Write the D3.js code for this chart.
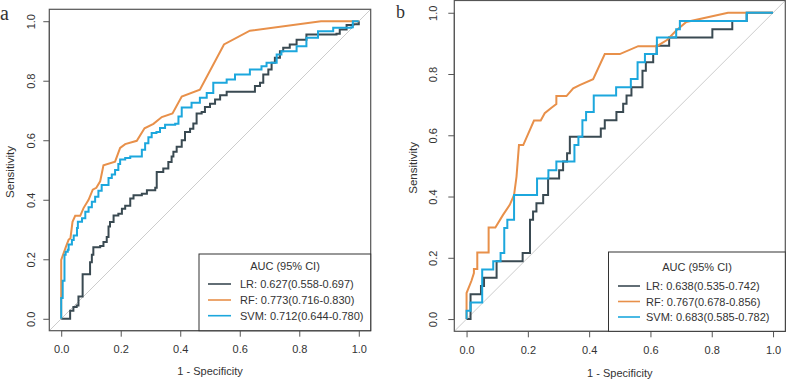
<!DOCTYPE html>
<html>
<head>
<meta charset="utf-8">
<script src="https://cdn.jsdelivr.net/npm/d3@7"></script>
<style>
  html, body { margin: 0; padding: 0; background: #fff; }
  svg { display: block; }
  text { font-family: "Liberation Sans", Arial, sans-serif; fill: #333; }
</style>
</head>
<body>
<svg id="chart" width="787" height="381"></svg>
<script>
// ---------------- DATA ----------------
const modelNames = ["LR", "RF", "SVM"];
const tickValues = [0, 0.2, 0.4, 0.6, 0.8, 1.0];
const xTitle = "1 - Specificity";
const yTitle = "Sensitivity";
const legendTitle = "AUC (95% CI)";
const panelLabels = ["a", "b"];

const aucA = ["0.627(0.558-0.697)", "0.773(0.716-0.830)", "0.712(0.644-0.780)"];
const aucB = ["0.638(0.535-0.742)", "0.767(0.678-0.856)", "0.683(0.585-0.782)"];

// panel a ROC points [1-specificity, sensitivity]
const lrA = [[0,0],[0.03,0],[0.03,0.027],[0.041,0.04],[0.052,0.045],[0.058,0.075],[0.072,0.08],[0.072,0.15],[0.092,0.15],[0.097,0.19],[0.103,0.215],[0.108,0.24],[0.131,0.245],[0.142,0.258],[0.153,0.275],[0.159,0.31],[0.164,0.325],[0.176,0.347],[0.192,0.353],[0.204,0.37],[0.215,0.38],[0.232,0.404],[0.243,0.415],[0.271,0.42],[0.288,0.432],[0.316,0.44],[0.321,0.493],[0.343,0.505],[0.36,0.527],[0.371,0.545],[0.377,0.561],[0.388,0.578],[0.405,0.6],[0.416,0.628],[0.433,0.639],[0.444,0.656],[0.455,0.69],[0.472,0.695],[0.483,0.712],[0.5,0.723],[0.517,0.737],[0.534,0.751],[0.556,0.763],[0.64,0.763],[0.651,0.782],[0.668,0.793],[0.679,0.821],[0.696,0.838],[0.707,0.86],[0.718,0.877],[0.735,0.899],[0.746,0.911],[0.768,0.922],[0.791,0.938],[0.824,0.955],[0.925,0.958],[0.936,0.972],[0.959,0.987],[0.98,0.99],[1,1]];
const rfA = [[0,0],[0,0.198],[0.017,0.245],[0.025,0.266],[0.031,0.27],[0.038,0.326],[0.047,0.346],[0.064,0.346],[0.075,0.372],[0.092,0.40],[0.106,0.434],[0.118,0.44],[0.131,0.462],[0.142,0.516],[0.181,0.528],[0.198,0.574],[0.215,0.587],[0.254,0.598],[0.28,0.64],[0.31,0.655],[0.338,0.678],[0.374,0.69],[0.405,0.747],[0.466,0.77],[0.547,0.922],[0.634,0.968],[0.873,1.0],[1,1]];
const svmA = [[0,0],[0,0.07],[0.005,0.07],[0.005,0.128],[0.011,0.128],[0.011,0.215],[0.015,0.225],[0.022,0.232],[0.025,0.25],[0.036,0.265],[0.042,0.28],[0.053,0.305],[0.056,0.326],[0.07,0.338],[0.081,0.36],[0.092,0.375],[0.103,0.393],[0.114,0.41],[0.125,0.43],[0.136,0.45],[0.148,0.45],[0.159,0.473],[0.17,0.485],[0.181,0.5],[0.192,0.52],[0.198,0.535],[0.215,0.54],[0.232,0.545],[0.26,0.545],[0.271,0.568],[0.282,0.59],[0.293,0.61],[0.304,0.624],[0.32,0.628],[0.332,0.641],[0.349,0.652],[0.383,0.655],[0.394,0.68],[0.405,0.71],[0.438,0.726],[0.466,0.743],[0.489,0.759],[0.511,0.793],[0.556,0.804],[0.584,0.821],[0.634,0.838],[0.673,0.849],[0.69,0.86],[0.724,0.888],[0.74,0.899],[0.791,0.916],[0.824,0.944],[0.863,0.966],[0.914,0.978],[0.975,0.98],[0.98,1.0],[1,1]];

// panel b ROC points
const lrB = [[0,0],[0.013,0.081],[0.047,0.108],[0.057,0.135],[0.098,0.189],[0.183,0.216],[0.207,0.324],[0.217,0.351],[0.228,0.378],[0.25,0.405],[0.266,0.459],[0.302,0.486],[0.315,0.514],[0.328,0.541],[0.337,0.595],[0.438,0.622],[0.451,0.649],[0.489,0.676],[0.511,0.703],[0.522,0.73],[0.538,0.757],[0.574,0.811],[0.585,0.838],[0.609,0.865],[0.62,0.892],[0.661,0.919],[0.802,0.946],[0.867,0.973],[0.914,1],[1,1]];
const rfB = [[0,0],[0,0.085],[0.016,0.125],[0.024,0.15],[0.024,0.163],[0.035,0.163],[0.035,0.217],[0.072,0.217],[0.072,0.299],[0.094,0.299],[0.119,0.34],[0.141,0.373],[0.155,0.405],[0.163,0.465],[0.171,0.568],[0.185,0.568],[0.22,0.648],[0.242,0.648],[0.255,0.672],[0.277,0.69],[0.293,0.702],[0.293,0.728],[0.326,0.728],[0.348,0.753],[0.369,0.764],[0.413,0.783],[0.451,0.865],[0.5,0.865],[0.56,0.891],[0.621,0.891],[0.654,0.911],[0.685,0.943],[0.717,0.97],[0.853,1.0],[1,1]];
const svmB = [[0,0],[0,0.027],[0.013,0.054],[0.051,0.162],[0.087,0.189],[0.111,0.216],[0.123,0.297],[0.133,0.324],[0.155,0.405],[0.23,0.459],[0.267,0.486],[0.293,0.514],[0.352,0.568],[0.365,0.595],[0.378,0.649],[0.39,0.676],[0.415,0.73],[0.488,0.757],[0.536,0.784],[0.558,0.838],[0.582,0.865],[0.621,0.919],[0.684,0.946],[0.696,0.973],[0.914,1],[1,1]];

// ---------------- STYLE ----------------
const colors = ["#3a4a52", "#e8904a", "#1ca7dd"];
const svg = d3.select("#chart");

function drawPanel(cfg) {
  const x = d3.scaleLinear().domain([-0.04, 1.04]).range([cfg.left, cfg.right]);
  const y = d3.scaleLinear().domain([-0.04, 1.04]).range([cfg.bottom, cfg.top]);
  const g = svg.append("g");

  const clipId = "clip-" + cfg.label;
  svg.append("clipPath").attr("id", clipId).append("rect")
    .attr("x", cfg.left).attr("y", cfg.top)
    .attr("width", cfg.right - cfg.left).attr("height", cfg.bottom - cfg.top);

  // diagonal reference
  g.append("line")
    .attr("clip-path", `url(#${clipId})`)
    .attr("x1", x(-0.04)).attr("y1", y(-0.04))
    .attr("x2", x(1.04)).attr("y2", y(1.04))
    .attr("stroke", "#cccccc").attr("stroke-width", 1);

  // curves
  cfg.series.forEach((s, i) => {
    const line = d3.line().x(d => x(d[0])).y(d => y(d[1]))
      .curve(s.step ? d3.curveStepAfter : d3.curveLinear);
    g.append("path").datum(s.data)
      .attr("d", line)
      .attr("fill", "none")
      .attr("stroke", colors[i])
      .attr("stroke-width", 2)
      .attr("stroke-linejoin", "miter");
  });

  // axes
  const xAxis = d3.axisBottom(x).tickValues(tickValues).tickFormat(d3.format(".1f")).tickSize(6).tickPadding(9);
  const gx = g.append("g").attr("transform", `translate(0,${cfg.bottom})`).call(xAxis);
  gx.select(".domain").attr("d", `M${x(0)},0H${x(1)}`).attr("stroke", "#555");
  gx.selectAll(".tick line").attr("stroke", "#555");
  gx.selectAll("text").attr("font-size", 11).attr("fill", "#333")
    .style("font-family", '"Liberation Sans", Arial, sans-serif');

  const yAxis = d3.axisLeft(y).tickValues(tickValues).tickFormat(d3.format(".1f")).tickSize(6);
  const gy = g.append("g").attr("transform", `translate(${cfg.left},0)`).call(yAxis);
  gy.select(".domain").attr("d", `M0,${y(0)}V${y(1)}`).attr("stroke", "#555");
  gy.selectAll(".tick line").attr("stroke", "#555");
  gy.selectAll(".tick text")
    .attr("x", null).attr("dy", null)
    .attr("transform", `translate(${cfg.yTickX - cfg.left},0) rotate(-90)`)
    .attr("text-anchor", "middle").attr("dominant-baseline", "central")
    .attr("font-size", 11).attr("fill", "#333")
    .style("font-family", '"Liberation Sans", Arial, sans-serif');

  // box
  g.append("rect")
    .attr("x", cfg.left).attr("y", cfg.top)
    .attr("width", cfg.right - cfg.left).attr("height", cfg.bottom - cfg.top)
    .attr("fill", "none").attr("stroke", "#555").attr("stroke-width", 1.2);

  // axis titles
  g.append("text").attr("x", (cfg.left + cfg.right) / 2).attr("y", cfg.xTitleY)
    .attr("text-anchor", "middle").attr("dominant-baseline", "central")
    .attr("font-size", 11).text(xTitle);
  g.append("text")
    .attr("transform", `translate(${cfg.yTitleX},${(cfg.top + cfg.bottom) / 2 + 2}) rotate(-90)`)
    .attr("text-anchor", "middle").attr("dominant-baseline", "central")
    .attr("font-size", 11.5).text(yTitle);

  // legend
  const L = cfg.legend;
  g.append("rect").attr("x", L.x0).attr("y", L.y0)
    .attr("width", cfg.right - L.x0).attr("height", cfg.bottom - L.y0)
    .attr("fill", "#fff").attr("stroke", "#333").attr("stroke-width", 1);
  g.append("text").attr("x", L.titleX).attr("y", L.titleY)
    .attr("text-anchor", "middle").attr("dominant-baseline", "central")
    .attr("font-size", 11).text(legendTitle);
  modelNames.forEach((m, i) => {
    const yy = L.rowY[i];
    g.append("line").attr("x1", L.lineX0).attr("x2", L.lineX1)
      .attr("y1", yy).attr("y2", yy)
      .attr("stroke", colors[i]).attr("stroke-width", 1.6);
    g.append("text").attr("x", L.textX).attr("y", yy)
      .attr("dominant-baseline", "central")
      .attr("font-size", 11).text(`${m}: ${cfg.auc[i]}`);
  });

  // panel label
  svg.append("text").attr("x", cfg.labelX).attr("y", cfg.labelY)
    .attr("font-size", cfg.labelSize)
    .style("font-family", '"Liberation Serif", "Times New Roman", serif')
    .attr("fill", "#111")
    .text(cfg.label);
}

drawPanel({
  label: panelLabels[0], labelX: 0, labelY: 20, labelSize: 20,
  left: 49.3, right: 370.7, top: 9.3, bottom: 330.7,
  yTickX: 31, yTitleX: 10, xTitleY: 371,
  auc: aucA,
  series: [{data: lrA, step: true}, {data: rfA, step: false}, {data: svmA, step: true}],
  legend: {x0: 199, y0: 254, titleX: 285, titleY: 266, lineX0: 208, lineX1: 231, textX: 240, rowY: [284, 300, 315.7]}
});

drawPanel({
  label: panelLabels[1], labelX: 396, labelY: 17.5, labelSize: 18,
  left: 454.3, right: 785.3, top: 0.5, bottom: 331.3,
  yTickX: 433, yTitleX: 413, xTitleY: 373,
  auc: aucB,
  series: [{data: lrB, step: true}, {data: rfB, step: false}, {data: svmB, step: true}],
  legend: {x0: 608.5, y0: 252, titleX: 697, titleY: 266.5, lineX0: 618, lineX1: 640, textX: 646, rowY: [286, 301.5, 317]}
});
</script>
</body>
</html>
